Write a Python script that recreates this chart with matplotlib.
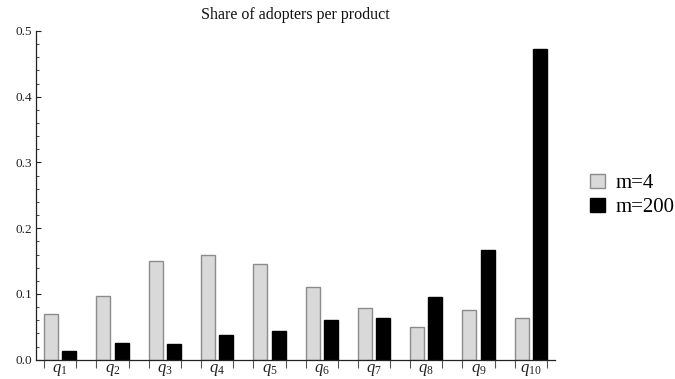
"""Grouped bar chart: share of adopters per product for two market sizes."""

import matplotlib
matplotlib.use("Agg")

import matplotlib.pyplot as plt
import numpy as np
from matplotlib.patches import Patch
from matplotlib.ticker import FixedLocator, MultipleLocator

plt.rcParams["font.family"] = ["Liberation Serif", "DejaVu Serif"]
plt.rcParams["mathtext.fontset"] = "custom"
plt.rcParams["mathtext.it"] = "Liberation Serif:italic"
plt.rcParams["mathtext.rm"] = "Liberation Serif"

products = [f"$q_{{{i}}}$" for i in range(1, 11)]
share_m4 = [0.070, 0.097, 0.150, 0.160, 0.145, 0.111, 0.079, 0.050, 0.076, 0.063]
share_m200 = [0.013, 0.026, 0.024, 0.037, 0.044, 0.060, 0.064, 0.096, 0.167, 0.473]
series_labels = ["m=4", "m=200"]

LIGHT = "#d9d9d9"
LIGHT_EDGE = "#8c8c8c"
DARK = "#000000"

bar_w = 0.268
offset = 0.175

fig = plt.figure(figsize=(6.75, 3.79), dpi=100)
ax = fig.add_axes([36 / 675, 19.3 / 379, (555 - 36) / 675, (359.7 - 31) / 379])

x = np.arange(1, len(products) + 1)
ax.bar(x - offset, share_m4, width=bar_w, color=LIGHT, edgecolor=LIGHT_EDGE, linewidth=1.0)
ax.bar(x + offset, share_m200, width=bar_w, color=DARK, edgecolor=DARK, linewidth=1.0)

ax.set_xlim(0.537, 10.46)
ax.set_ylim(0, 0.5)

for side in ("top", "right"):
    ax.spines[side].set_visible(False)
ax.spines["left"].set_color("#222222")
ax.spines["bottom"].set_color("#222222")
ax.spines["left"].set_linewidth(0.9)
ax.spines["bottom"].set_linewidth(0.9)

# y axis: inward ticks with minor subdivisions
ax.yaxis.set_major_locator(MultipleLocator(0.1))
ax.yaxis.set_minor_locator(MultipleLocator(0.02))
ax.yaxis.set_major_formatter(plt.FuncFormatter(lambda v, _: f"{v:.1f}"))
ax.tick_params(axis="y", which="major", direction="in", length=3.8, width=0.8,
               color="#222222", labelsize=9.5, labelcolor="#222222", pad=3)
ax.tick_params(axis="y", which="minor", direction="in", length=2.0, width=0.6,
               color="#222222")

# x axis: edge ticks around each group, labels at group centres
edge = offset + bar_w / 2
edges = np.sort(np.concatenate([x - edge, x + edge]))
ax.xaxis.set_major_locator(FixedLocator(edges))
ax.xaxis.set_major_formatter(plt.NullFormatter())
ax.xaxis.set_minor_locator(FixedLocator(x))
ax.set_xticks(x, products, minor=True)
ax.tick_params(axis="x", which="major", direction="out", length=6.0, width=0.8,
               color="#555555")
ax.tick_params(axis="x", which="minor", length=0, labelsize=12, pad=1.5,
               labelcolor="#222222")

fig.text(295 / 675, 1 - 15 / 379, "Share of adopters per product",
         ha="center", va="center", fontsize=11.5, color="#111111")

handles = [
    Patch(facecolor=LIGHT, edgecolor=LIGHT_EDGE, linewidth=1.0),
    Patch(facecolor=DARK, edgecolor=DARK, linewidth=1.0),
]
fig.legend(handles, series_labels, loc="center left",
           bbox_to_anchor=(590 / 675, 1 - 195.5 / 379), frameon=False,
           fontsize=15, handlelength=0.7, handleheight=0.7,
           handletextpad=0.55, labelspacing=0.2, borderaxespad=0,
           borderpad=0)

fig.savefig("out.png", dpi=100)
